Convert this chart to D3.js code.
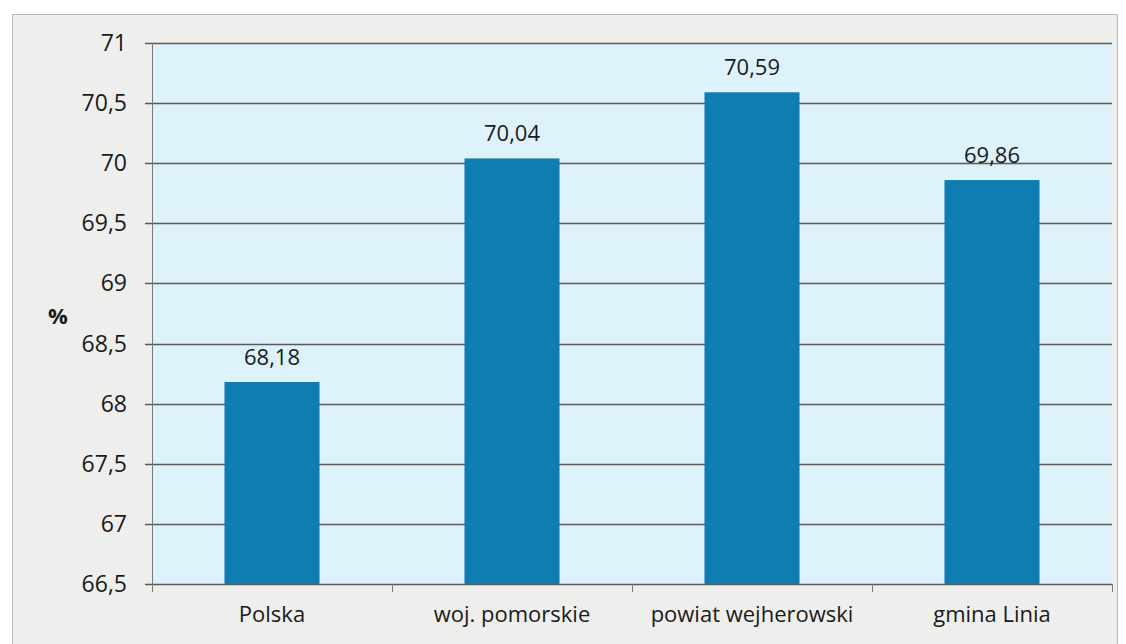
<!DOCTYPE html>
<html>
<head>
<meta charset="utf-8">
<script src="https://cdn.jsdelivr.net/npm/d3@7"></script>
<style>
  body { margin: 0; background: #fff; }
  svg { display: block; font-family: "Open Sans", sans-serif; }
</style>
</head>
<body>
<div id="chart"></div>
<script>
"use strict";
const categories = ['Polska', 'woj. pomorskie', 'powiat wejherowski', 'gmina Linia'];
const values = [68.18, 70.04, 70.59, 69.86];
const yTicks = [66.5, 67, 67.5, 68, 68.5, 69, 69.5, 70, 70.5, 71];

const width = 1126;
const height = 644;
const margin = { left: 152, right: 14, top: 43, bottom: 60 };
const fmt = v => String(v).replace('.', ',');

const svg = d3.select('#chart').append('svg')
    .attr('width', width)
    .attr('height', height);

// outer chart frame
svg.append('rect')
    .attr('x', 12.5).attr('y', 14.5)
    .attr('width', 1105).attr('height', 640)
    .attr('fill', '#eeeeec')
    .attr('stroke', '#b8b8b8');

const x = d3.scaleBand()
    .domain(categories)
    .range([margin.left, width - margin.right])
    .paddingInner(0.604)
    .paddingOuter(0.302);

const y = d3.scaleLinear()
    .domain([66.5, 71])
    .range([584, margin.top]);

// plot area
svg.append('rect')
    .attr('x', margin.left).attr('y', y(71))
    .attr('width', width - margin.right - margin.left)
    .attr('height', y(66.5) - y(71))
    .attr('fill', '#def2fb');

// gridlines
svg.append('g')
    .selectAll('line')
    .data(yTicks)
    .join('line')
    .attr('x1', margin.left - 7)
    .attr('x2', width - margin.right)
    .attr('y1', d => Math.round(y(d)) + 0.5)
    .attr('y2', d => Math.round(y(d)) + 0.5)
    .attr('stroke', '#5a5a5a')
    .attr('stroke-width', 1.3);

// y axis labels
svg.append('g')
    .selectAll('text')
    .data(yTicks)
    .join('text')
    .attr('x', 127)
    .attr('y', d => y(d))
    .attr('dy', '0.35em')
    .attr('text-anchor', 'end')
    .attr('font-size', 23)
    .attr('fill', '#1a1a1a')
    .text(fmt);

// y axis line
svg.append('line')
    .attr('x1', margin.left + 0.5).attr('x2', margin.left + 0.5)
    .attr('y1', y(71)).attr('y2', y(66.5) + 8)
    .attr('stroke', '#7a7a7a');

// x tick marks at band boundaries
const step = x.step();
svg.append('g')
    .selectAll('line')
    .data(d3.range(categories.length + 1))
    .join('line')
    .attr('x1', i => margin.left + i * step + 0.5)
    .attr('x2', i => margin.left + i * step + 0.5)
    .attr('y1', y(66.5))
    .attr('y2', y(66.5) + 8)
    .attr('stroke', '#7a7a7a');

// bars
svg.append('g')
    .selectAll('rect')
    .data(values)
    .join('rect')
    .attr('x', (d, i) => x(categories[i]))
    .attr('y', d => y(d))
    .attr('width', x.bandwidth())
    .attr('height', d => y(66.5) - y(d))
    .attr('fill', '#0f7cb2');

// value labels
svg.append('g')
    .selectAll('text')
    .data(values)
    .join('text')
    .attr('x', (d, i) => x(categories[i]) + x.bandwidth() / 2)
    .attr('y', d => y(d) - 17)
    .attr('text-anchor', 'middle')
    .attr('font-size', 22)
    .attr('fill', '#1a1a1a')
    .text(fmt);

// category labels
svg.append('g')
    .selectAll('text')
    .data(categories)
    .join('text')
    .attr('x', d => x(d) + x.bandwidth() / 2)
    .attr('y', 622)
    .attr('text-anchor', 'middle')
    .attr('font-size', 22)
    .attr('fill', '#1a1a1a')
    .text(d => d);

// y axis title
svg.append('text')
    .attr('x', 58)
    .attr('y', 324)
    .attr('text-anchor', 'middle')
    .attr('font-size', 22)
    .attr('font-weight', 'bold')
    .attr('fill', '#1a1a1a')
    .text('%');
</script>
</body>
</html>
